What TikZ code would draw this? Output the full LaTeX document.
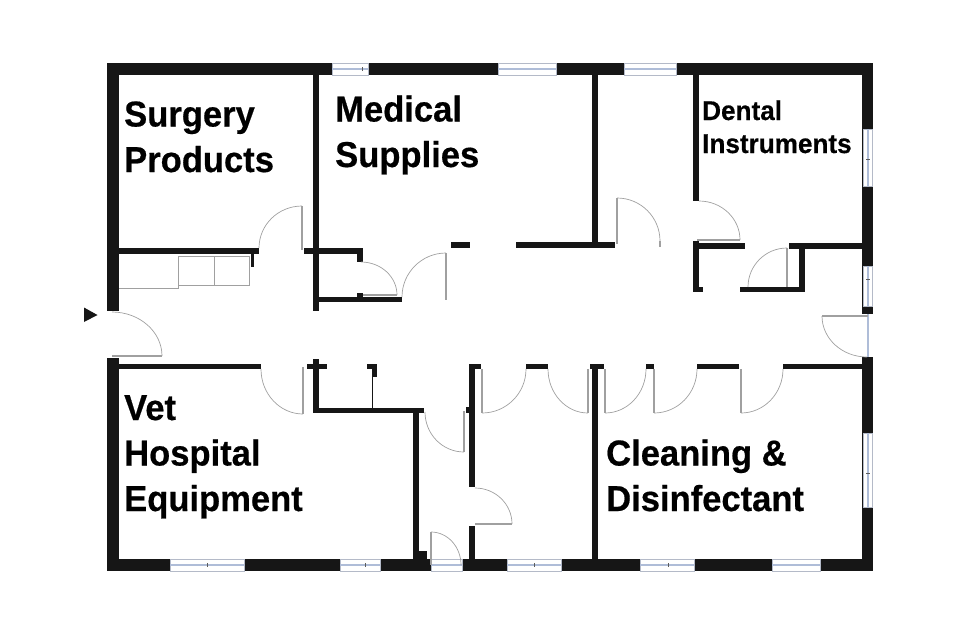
\documentclass[tikz,border=0pt]{standalone}
\usepackage{fontspec}
\setmainfont{Liberation Sans}[BoldFeatures={FakeBold=0.5,FakeStretch=0.96}]
\definecolor{wallblack}{HTML}{161616}
\definecolor{leafgrey}{HTML}{A0A0A0}
\definecolor{panerim}{HTML}{B4BAC8}
\definecolor{paneblue}{HTML}{AFBDD8}
\tikzset{
  wall/.style={fill=wallblack,draw=none},
  leaf/.style={color=leafgrey,line width=1.5},
  swing/.style={color=leafgrey,line width=0.7},
  cabinet/.style={color=leafgrey,line width=0.8},
  pane/.style={fill=white,draw=panerim,line width=0.7},
  glass/.style={color=paneblue,line width=1.8},
  panetick/.style={color=wallblack!70,line width=0.6},
  roomlabel/.style={anchor=base west,inner sep=0,align=left,text=black,font=\bfseries\fontsize{36}{45.5}\selectfont},
  smalllabel/.style={roomlabel,font=\bfseries\fontsize{27.2}{33}\selectfont},
}
\begin{document}
\begin{tikzpicture}[x=1pt,y=-1pt]
\useasboundingbox (0,0) rectangle (960,635);
% outer walls
\fill [wall](107,63) rectangle (873,75);
\fill [wall](107,559) rectangle (873,571);
\fill [wall](107,63) rectangle (119,311);
\fill [wall](107,358) rectangle (119,571);
\fill [wall](862,63) rectangle (873,306);
\fill [wall](862,306) rectangle (873,314);
\fill [wall](862,357) rectangle (873,571);
% top left rooms
\fill [wall](119,248) rectangle (259,254);
\fill [wall](251,248) rectangle (254,267);
\fill [wall](313,75) rectangle (319,311);
\fill [wall](304,248) rectangle (363,254);
\fill [wall](357,248) rectangle (363,262);
\fill [wall](319,297) rectangle (402,302);
\fill [wall](357,293) rectangle (363,297);
% top middle and right rooms
\fill [wall](451,242) rectangle (470,248);
\fill [wall](516,242) rectangle (615,248);
\fill [wall](592,75) rectangle (598,248);
\fill [wall](693,75) rectangle (699,201);
\fill [wall](693,241) rectangle (699,292);
\fill [wall](693,287) rectangle (703,292);
\fill [wall](699,243) rectangle (745,249);
\fill [wall](789,243) rectangle (862,249);
\fill [wall](799,243) rectangle (805,292);
\fill [wall](740,287) rectangle (805,292);
% bottom left rooms
\fill [wall](119,364) rectangle (261,369);
\fill [wall](313,359) rectangle (319,413);
\fill [wall](307,364) rectangle (327,369);
\fill [wall](367,364) rectangle (377,369);
\fill [wall](372,369) rectangle (377,377);
\fill [wall](313,408) rectangle (424,413);
\fill [wall](413,408) rectangle (419,559);
\fill [wall](419,551) rectangle (427,559);
\draw [color=wallblack,line width=0.8](372,376) -- (372,408);
% bottom middle and right rooms
\fill [wall](469,364) rectangle (475,487);
\fill [wall](466,407) rectangle (469,413);
\fill [wall](469,526) rectangle (475,559);
\fill [wall](469,364) rectangle (481,369);
\fill [wall](526,364) rectangle (548,369);
\fill [wall](590,364) rectangle (604,369);
\fill [wall](592,369) rectangle (598,559);
\fill [wall](646,364) rectangle (654,369);
\fill [wall](697,364) rectangle (739,369);
\fill [wall](783,364) rectangle (862,369);
% windows, top
\draw [pane](332,63) rectangle (368,75);
\draw [glass](332,69) -- (368,69);
\draw [panetick](362,67) -- (362,71);
\draw [pane](498,63) rectangle (556,75);
\draw [glass](498,69) -- (556,69);
\draw [pane](624,63) rectangle (676,75);
\draw [glass](624,69) -- (676,69);
% windows, bottom
\draw [pane](170,559) rectangle (244,571);
\draw [glass](170,565) -- (244,565);
\draw [panetick](207,563) -- (207,567);
\draw [pane](340,559) rectangle (380,571);
\draw [glass](340,565) -- (380,565);
\draw [panetick](365,563) -- (365,567);
\draw [pane](431,559) rectangle (462,571);
\draw [glass](431,565) -- (462,565);
\draw [pane](507,559) rectangle (561,571);
\draw [glass](507,565) -- (561,565);
\draw [panetick](534,563) -- (534,567);
\draw [pane](640,559) rectangle (694,571);
\draw [glass](640,565) -- (694,565);
\draw [panetick](668,563) -- (668,567);
\draw [pane](772,559) rectangle (820,571);
\draw [glass](772,565) -- (820,565);
% windows, right
\draw [pane](863,129) rectangle (872,186);
\draw [glass](868,129) -- (868,186);
\draw [panetick](866,159) -- (870,159);
\draw [pane](863,266) rectangle (872,306);
\draw [glass](868,266) -- (868,306);
\draw [panetick](866,279) -- (870,279);
\draw [pane](863,433) rectangle (872,507);
\draw [glass](868,433) -- (868,507);
\draw [panetick](866,473) -- (870,473);
\draw [glass](868,314) -- (868,357);
% cabinets
\draw [cabinet](119,288) -- (178,288) -- (178,256) -- (249,256) -- (249,285) -- (178,285);
\draw [cabinet](214,256) -- (214,285);
% doors
\draw [leaf](112,356) -- (162,356);
\draw [swing](112,312) arc[start angle=270,end angle=360,x radius=50,y radius=44];
\draw [leaf](302,206) -- (302,250);
\draw [swing](302,206) arc[start angle=270,end angle=180,x radius=43,y radius=42];
\draw [leaf](363,295) -- (397,295);
\draw [swing](361,262) arc[start angle=270,end angle=360,x radius=36,y radius=33];
\draw [leaf](446,253) -- (446,300);
\draw [swing](446,253) arc[start angle=270,end angle=180,x radius=44,y radius=44];
\draw [leaf](303,367) -- (303,414);
\draw [swing](261,369) arc[start angle=180,end angle=90,x radius=42,y radius=45];
\draw [leaf](617,198) -- (617,244);
\draw [swing](617,198) arc[start angle=270,end angle=360,x radius=43,y radius=43];
\draw [leaf](660,241) -- (660,247);
\draw [leaf](697,240) -- (740,240);
\draw [swing](699,201) arc[start angle=270,end angle=360,x radius=41,y radius=39];
\draw [leaf](787,248) -- (787,287);
\draw [swing](787,248) arc[start angle=270,end angle=180,x radius=39,y radius=39];
\draw [leaf](822,316) -- (868,316);
\draw [swing](822,316) arc[start angle=180,end angle=90,x radius=45,y radius=41];
\draw [leaf](482,369) -- (482,413);
\draw [swing](482,413) arc[start angle=90,end angle=0,x radius=44,y radius=44];
\draw [leaf](588,369) -- (588,413);
\draw [swing](548,369) arc[start angle=180,end angle=90,x radius=40,y radius=44];
\draw [leaf](605,369) -- (605,413);
\draw [swing](605,413) arc[start angle=90,end angle=0,x radius=41,y radius=44];
\draw [leaf](654,369) -- (654,413);
\draw [swing](654,413) arc[start angle=90,end angle=0,x radius=43,y radius=44];
\draw [leaf](741,369) -- (741,413);
\draw [swing](741,413) arc[start angle=90,end angle=0,x radius=42,y radius=44];
\draw [leaf](464,411) -- (464,452);
\draw [swing](425,412) arc[start angle=180,end angle=90,x radius=39,y radius=40];
\draw [leaf](475,524) -- (512,524);
\draw [swing](475,488) arc[start angle=270,end angle=360,x radius=37,y radius=36];
\draw [leaf](431,532) -- (431,565);
\draw [swing](431,532) arc[start angle=270,end angle=360,x radius=30,y radius=33];
% entry mark
\fill [color=wallblack](84,307.5) -- (97.5,315) -- (84,322) -- cycle;
% room names
\node (surgery) [roomlabel] at (124,172) {Surgery\\Products};
\node (medical) [roomlabel] at (335,167) {Medical\\Supplies};
\node (dental) [smalllabel] at (702,153) {Dental\\Instruments};
\node (vet) [roomlabel] at (124,511) {Vet\\Hospital\\Equipment};
\node (cleaning) [roomlabel] at (606,511) {Cleaning \&\\Disinfectant};
\end{tikzpicture}
\end{document}
